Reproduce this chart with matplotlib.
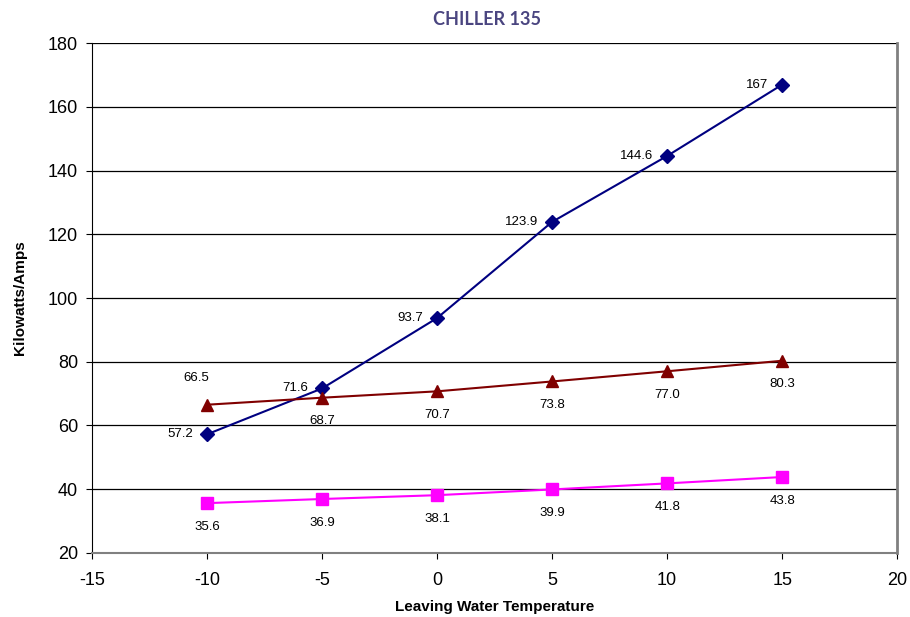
import matplotlib
matplotlib.use("Agg")
import matplotlib.pyplot as plt

plt.rcParams["axes.unicode_minus"] = False

temps = [-10, -5, 0, 5, 10, 15]
kilowatts = [57.2, 71.6, 93.7, 123.9, 144.6, 167]
amps_red = [66.5, 68.7, 70.7, 73.8, 77.0, 80.3]
amps_pink = [35.6, 36.9, 38.1, 39.9, 41.8, 43.8]

blue_labels = ["57.2", "71.6", "93.7", "123.9", "144.6", "167"]
red_labels = ["66.5", "68.7", "70.7", "73.8", "77.0", "80.3"]
pink_labels = ["35.6", "36.9", "38.1", "39.9", "41.8", "43.8"]

fig = plt.figure(figsize=(9.1, 6.17), dpi=100)
ax = fig.add_axes([0.101, 0.104, 0.885, 0.826])

# horizontal grid
for y in range(40, 181, 20):
    ax.axhline(y, color="black", linewidth=0.9, zorder=1)

ax.plot(temps, kilowatts, color="#000080", marker="D", markersize=7, linewidth=1.5, zorder=3)
ax.plot(temps, amps_red, color="#800000", marker="^", markersize=9, linewidth=1.5, zorder=3)
ax.plot(temps, amps_pink, color="#FF00FF", marker="s", markersize=8, linewidth=1.5, zorder=3)

for x, y, lab in zip(temps, kilowatts, blue_labels):
    ax.annotate(lab, (x, y), xytext=(-10, 0), textcoords="offset points",
                ha="right", va="center", fontsize=9.5, family="Liberation Sans")
for i, (x, y, lab) in enumerate(zip(temps, amps_red, red_labels)):
    off = (-8, 19) if i == 0 else (0, -17)
    ax.annotate(lab, (x, y), xytext=off, textcoords="offset points",
                ha="center", va="center", fontsize=9.5, family="Liberation Sans")
for x, y, lab in zip(temps, amps_pink, pink_labels):
    ax.annotate(lab, (x, y), xytext=(0, -17), textcoords="offset points",
                ha="center", va="center", fontsize=9.5, family="Liberation Sans")

ax.set_xlim(-15, 20)
ax.set_ylim(20, 180)
ax.set_xticks(range(-15, 21, 5))
ax.set_yticks(range(20, 181, 20))
ax.tick_params(labelsize=13, direction="out", length=4)
ax.tick_params(axis="x", pad=10)
ax.tick_params(axis="y", pad=6)
for lab in ax.get_xticklabels() + ax.get_yticklabels():
    lab.set_family("Liberation Sans")

ax.spines["left"].set_color("black")
ax.spines["bottom"].set_color("#808080")
ax.spines["bottom"].set_linewidth(1.5)
ax.spines["right"].set_color("#808080")
ax.spines["right"].set_linewidth(2)
ax.spines["top"].set_visible(False)

fig.text(0.543, 0.016, "Leaving Water Temperature", ha="center", va="center",
         fontsize=11, fontweight="bold", family="Liberation Sans")
ax.set_ylabel("Kilowatts/Amps", fontsize=11, fontweight="bold",
              family="Liberation Sans", labelpad=15)
fig.text(0.535, 0.968, "CHILLER 135", ha="center", va="center", fontsize=13,
         fontweight="bold", color="#4A4580", family="Lato")

fig.savefig("out.png", dpi=100)
